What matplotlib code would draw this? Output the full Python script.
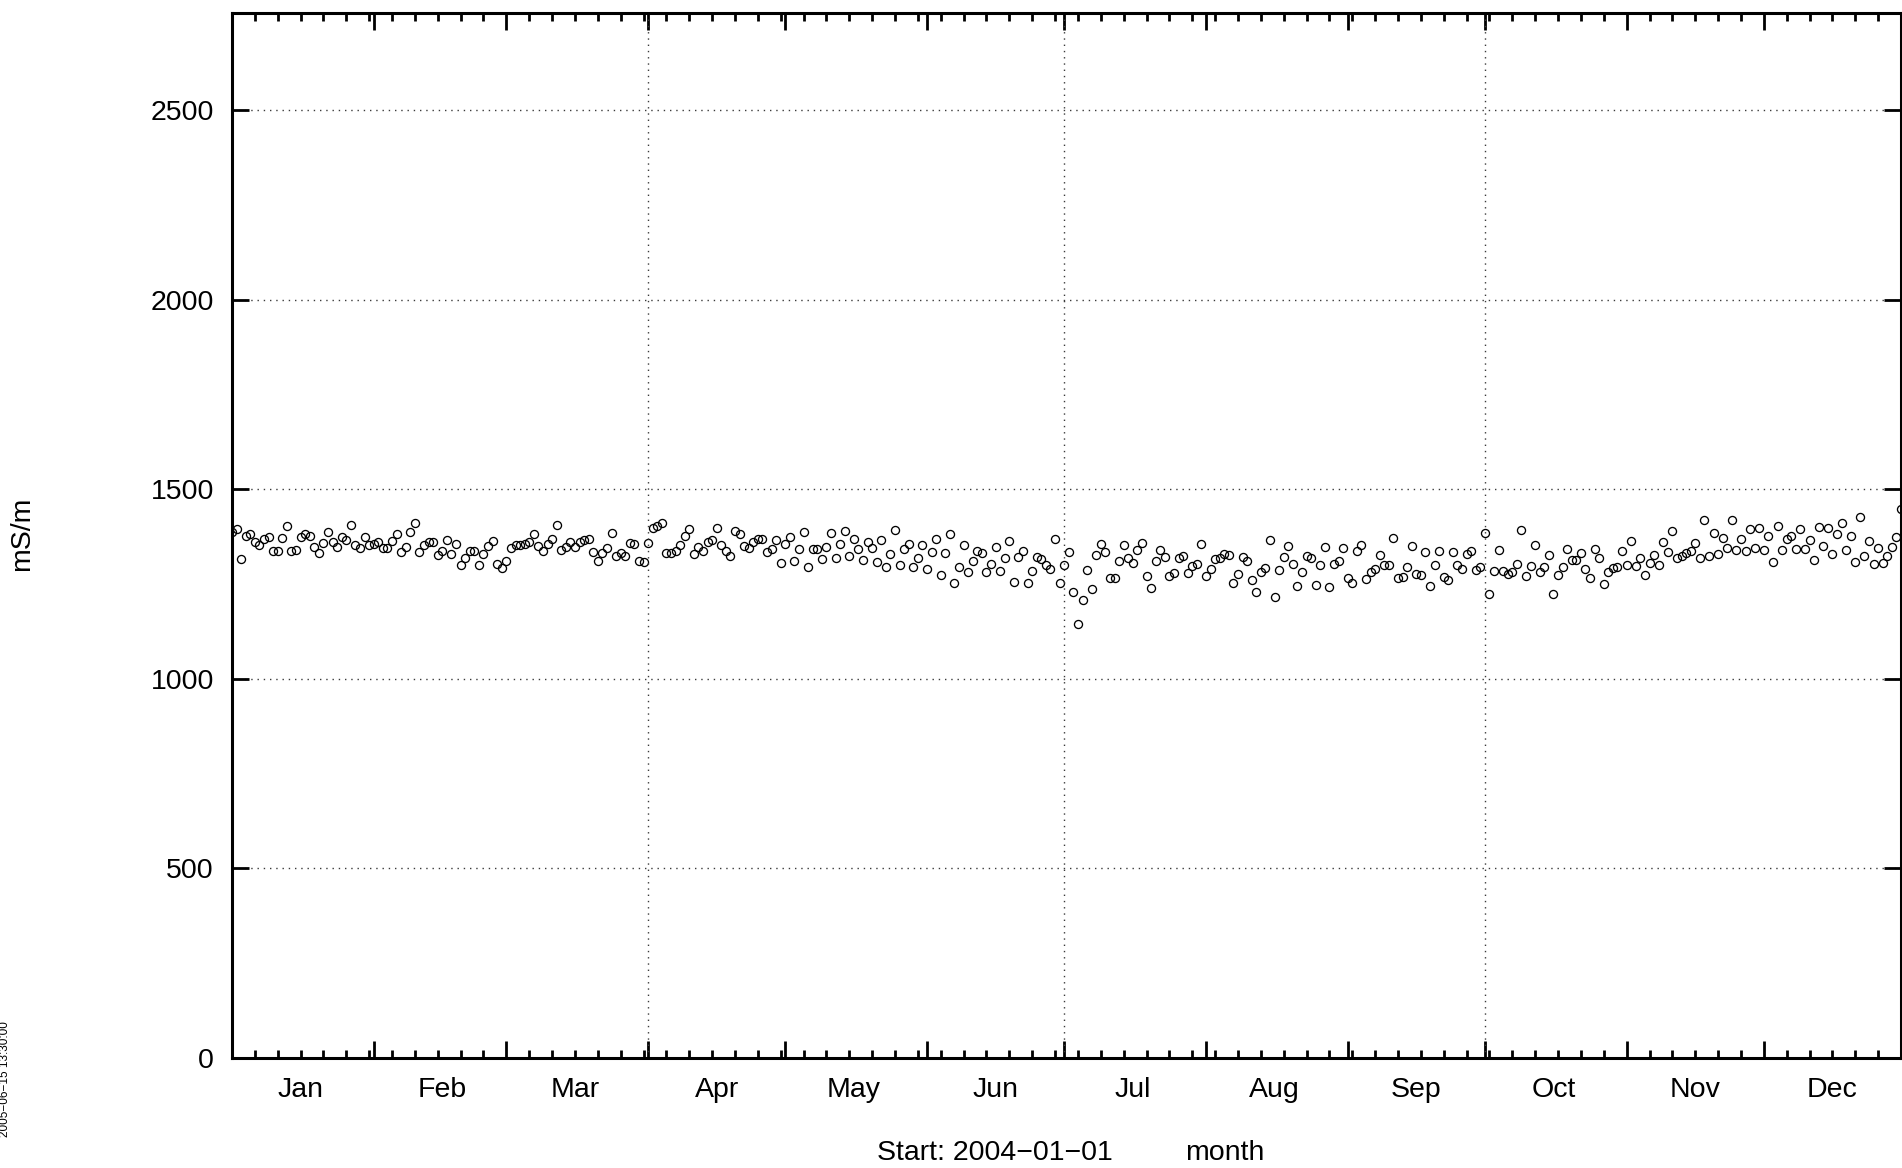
"""Daily conductivity for 2004 drawn gnuplot style, open circles on a dotted grid."""

import matplotlib

matplotlib.use("Agg")
import matplotlib.dates as mdates
import matplotlib.pyplot as plt
import numpy as np
import pandas as pd
from matplotlib.ticker import FixedLocator, MultipleLocator

plt.rcParams["font.family"] = ["Liberation Sans", "DejaVu Sans"]

start = "2004-01-01"
end = "2004-12-31"

# mS/m, one value per day
q1_values = [
    1387, 1396, 1317, 1376, 1382, 1362, 1353, 1370, 1375, 1338, 1338, 1371, 1403, 1336, 1341, 1373,
    1383, 1376, 1349, 1331, 1358, 1387, 1362, 1347, 1374, 1366, 1406, 1354, 1346, 1374, 1353, 1355,
    1360, 1344, 1346, 1363, 1383, 1335, 1347, 1387, 1412, 1335, 1353, 1362, 1362, 1326, 1338, 1365,
    1328, 1356, 1300, 1318, 1338, 1338, 1299, 1328, 1350, 1364, 1302, 1292, 1310, 1345, 1353, 1353,
    1355, 1362, 1381, 1351, 1338, 1355, 1369, 1405, 1340, 1347, 1362, 1349, 1362, 1367, 1369, 1334,
    1311, 1333, 1344, 1386, 1325, 1331, 1325, 1359, 1356, 1311, 1307,
]
q2_values = [
    1359, 1398, 1404, 1411, 1333, 1332, 1338, 1353, 1376, 1394, 1328, 1349, 1338, 1361, 1367, 1398,
    1353, 1336, 1325, 1391, 1382, 1351, 1344, 1362, 1369, 1370, 1335, 1342, 1367, 1305, 1355, 1374,
    1310, 1342, 1387, 1296, 1342, 1342, 1317, 1347, 1384, 1318, 1356, 1391, 1325, 1370, 1342, 1314,
    1362, 1344, 1309, 1365, 1294, 1328, 1393, 1299, 1342, 1356, 1295, 1318, 1354, 1289, 1335, 1368,
    1275, 1332, 1383, 1253, 1296, 1353, 1281, 1310, 1337, 1332, 1283, 1302, 1348, 1285, 1318, 1364,
    1255, 1321, 1337, 1253, 1285, 1322, 1317, 1299, 1290, 1369, 1253,
]
q3_values = [
    1299, 1335, 1229, 1145, 1208, 1286, 1238, 1326, 1355, 1335, 1266, 1267, 1312, 1353, 1320, 1306,
    1340, 1358, 1270, 1239, 1310, 1340, 1321, 1270, 1280, 1320, 1323, 1280, 1297, 1303, 1356, 1272,
    1290, 1316, 1320, 1328, 1326, 1254, 1277, 1322, 1310, 1261, 1229, 1283, 1293, 1365, 1217, 1288,
    1322, 1351, 1302, 1245, 1281, 1325, 1318, 1248, 1300, 1347, 1243, 1303, 1312, 1345, 1267, 1252,
    1336, 1354, 1264, 1281, 1289, 1326, 1301, 1299, 1371, 1265, 1268, 1294, 1351, 1277, 1274, 1334,
    1246, 1300, 1336, 1268, 1261, 1334, 1300, 1289, 1330, 1338, 1286, 1294,
]
q4_values = [
    1386, 1223, 1285, 1340, 1285, 1276, 1281, 1303, 1393, 1270, 1298, 1354, 1281, 1295, 1327, 1225,
    1274, 1294, 1342, 1314, 1314, 1332, 1291, 1267, 1342, 1318, 1249, 1282, 1292, 1296, 1338, 1300,
    1363, 1297, 1318, 1274, 1305, 1326, 1300, 1360, 1335, 1390, 1320, 1325, 1332, 1336, 1358, 1319,
    1419, 1325, 1385, 1328, 1372, 1345, 1418, 1339, 1369, 1336, 1396, 1345, 1399, 1340, 1376, 1307,
    1402, 1340, 1370, 1377, 1342, 1395, 1342, 1367, 1314, 1400, 1351, 1397, 1328, 1383, 1412, 1340,
    1376, 1309, 1427, 1323, 1363, 1303, 1344, 1306, 1323, 1347, 1374, 1449,
]
month_names = ["Jan", "Feb", "Mar", "Apr", "May", "Jun",
               "Jul", "Aug", "Sep", "Oct", "Nov", "Dec"]
quarter_starts = ["2004-04-01", "2004-07-01", "2004-10-01"]
y_top = 2757

values = np.array(q1_values + q2_values + q3_values + q4_values)
days = pd.date_range(start, periods=len(values), freq="D")

W, H = 1902, 1168
fs = 20.5
fig = plt.figure(figsize=(W / 100, H / 100), dpi=100)
ax = fig.add_axes([232 / W, 1 - 1058 / H, (1901 - 232) / W, (1058 - 12.7) / H])

ax.plot(days, values, linestyle="none", marker="o", markersize=5.8,
        markerfacecolor="none", markeredgecolor="black", markeredgewidth=0.95)

x0, x1 = mdates.date2num(pd.Timestamp(start)), mdates.date2num(pd.Timestamp(end))
ax.set_xlim(x0, x1)
ax.set_ylim(0, y_top)

grid_style = dict(color="#3a3a3a", linewidth=1.0, linestyle=(0, (1, 3.5)))
ax.yaxis.set_major_locator(MultipleLocator(500))
ax.yaxis.grid(True, **grid_style)
for q in quarter_starts:
    ax.axvline(mdates.date2num(pd.Timestamp(q)), **grid_style)

month_starts = pd.date_range(start, periods=12, freq="MS")
ax.xaxis.set_major_locator(FixedLocator(mdates.date2num(month_starts)))
ax.xaxis.set_minor_locator(FixedLocator(x0 + np.arange(5, 366, 5)))
ax.xaxis.set_major_formatter(plt.NullFormatter())

ax.tick_params(axis="both", which="major", direction="in", length=12.5, width=2.0,
               top=True, right=True, labelsize=fs, pad=13)
ax.tick_params(axis="x", which="minor", direction="in", length=5.5, width=2.0,
               top=True, bottom=True)
for spine in ax.spines.values():
    spine.set_linewidth(2.2)

month_mid = month_starts + pd.Timedelta(days=15)
for name, mid in zip(month_names, month_mid):
    ax.text(mdates.date2num(mid), -32 / 1045.3, name, transform=ax.get_xaxis_transform(),
            ha="center", va="center", fontsize=fs)

fig.text(22 / W, 1 - 534 / H, "mS/m", rotation=90, ha="center", va="center", fontsize=fs)
fig.text(877 / W, 1 - 1153 / H, "Start: 2004\u221201\u221201", ha="left", va="center", fontsize=fs)
fig.text(1185 / W, 1 - 1153 / H, "month", ha="left", va="center", fontsize=fs)
fig.text(5 / W, 1 - 1137 / H, "2005\u221206\u221215 13:30:00", rotation=90,
         ha="center", va="bottom", fontsize=8.5)

fig.savefig("out.png", dpi=100)
